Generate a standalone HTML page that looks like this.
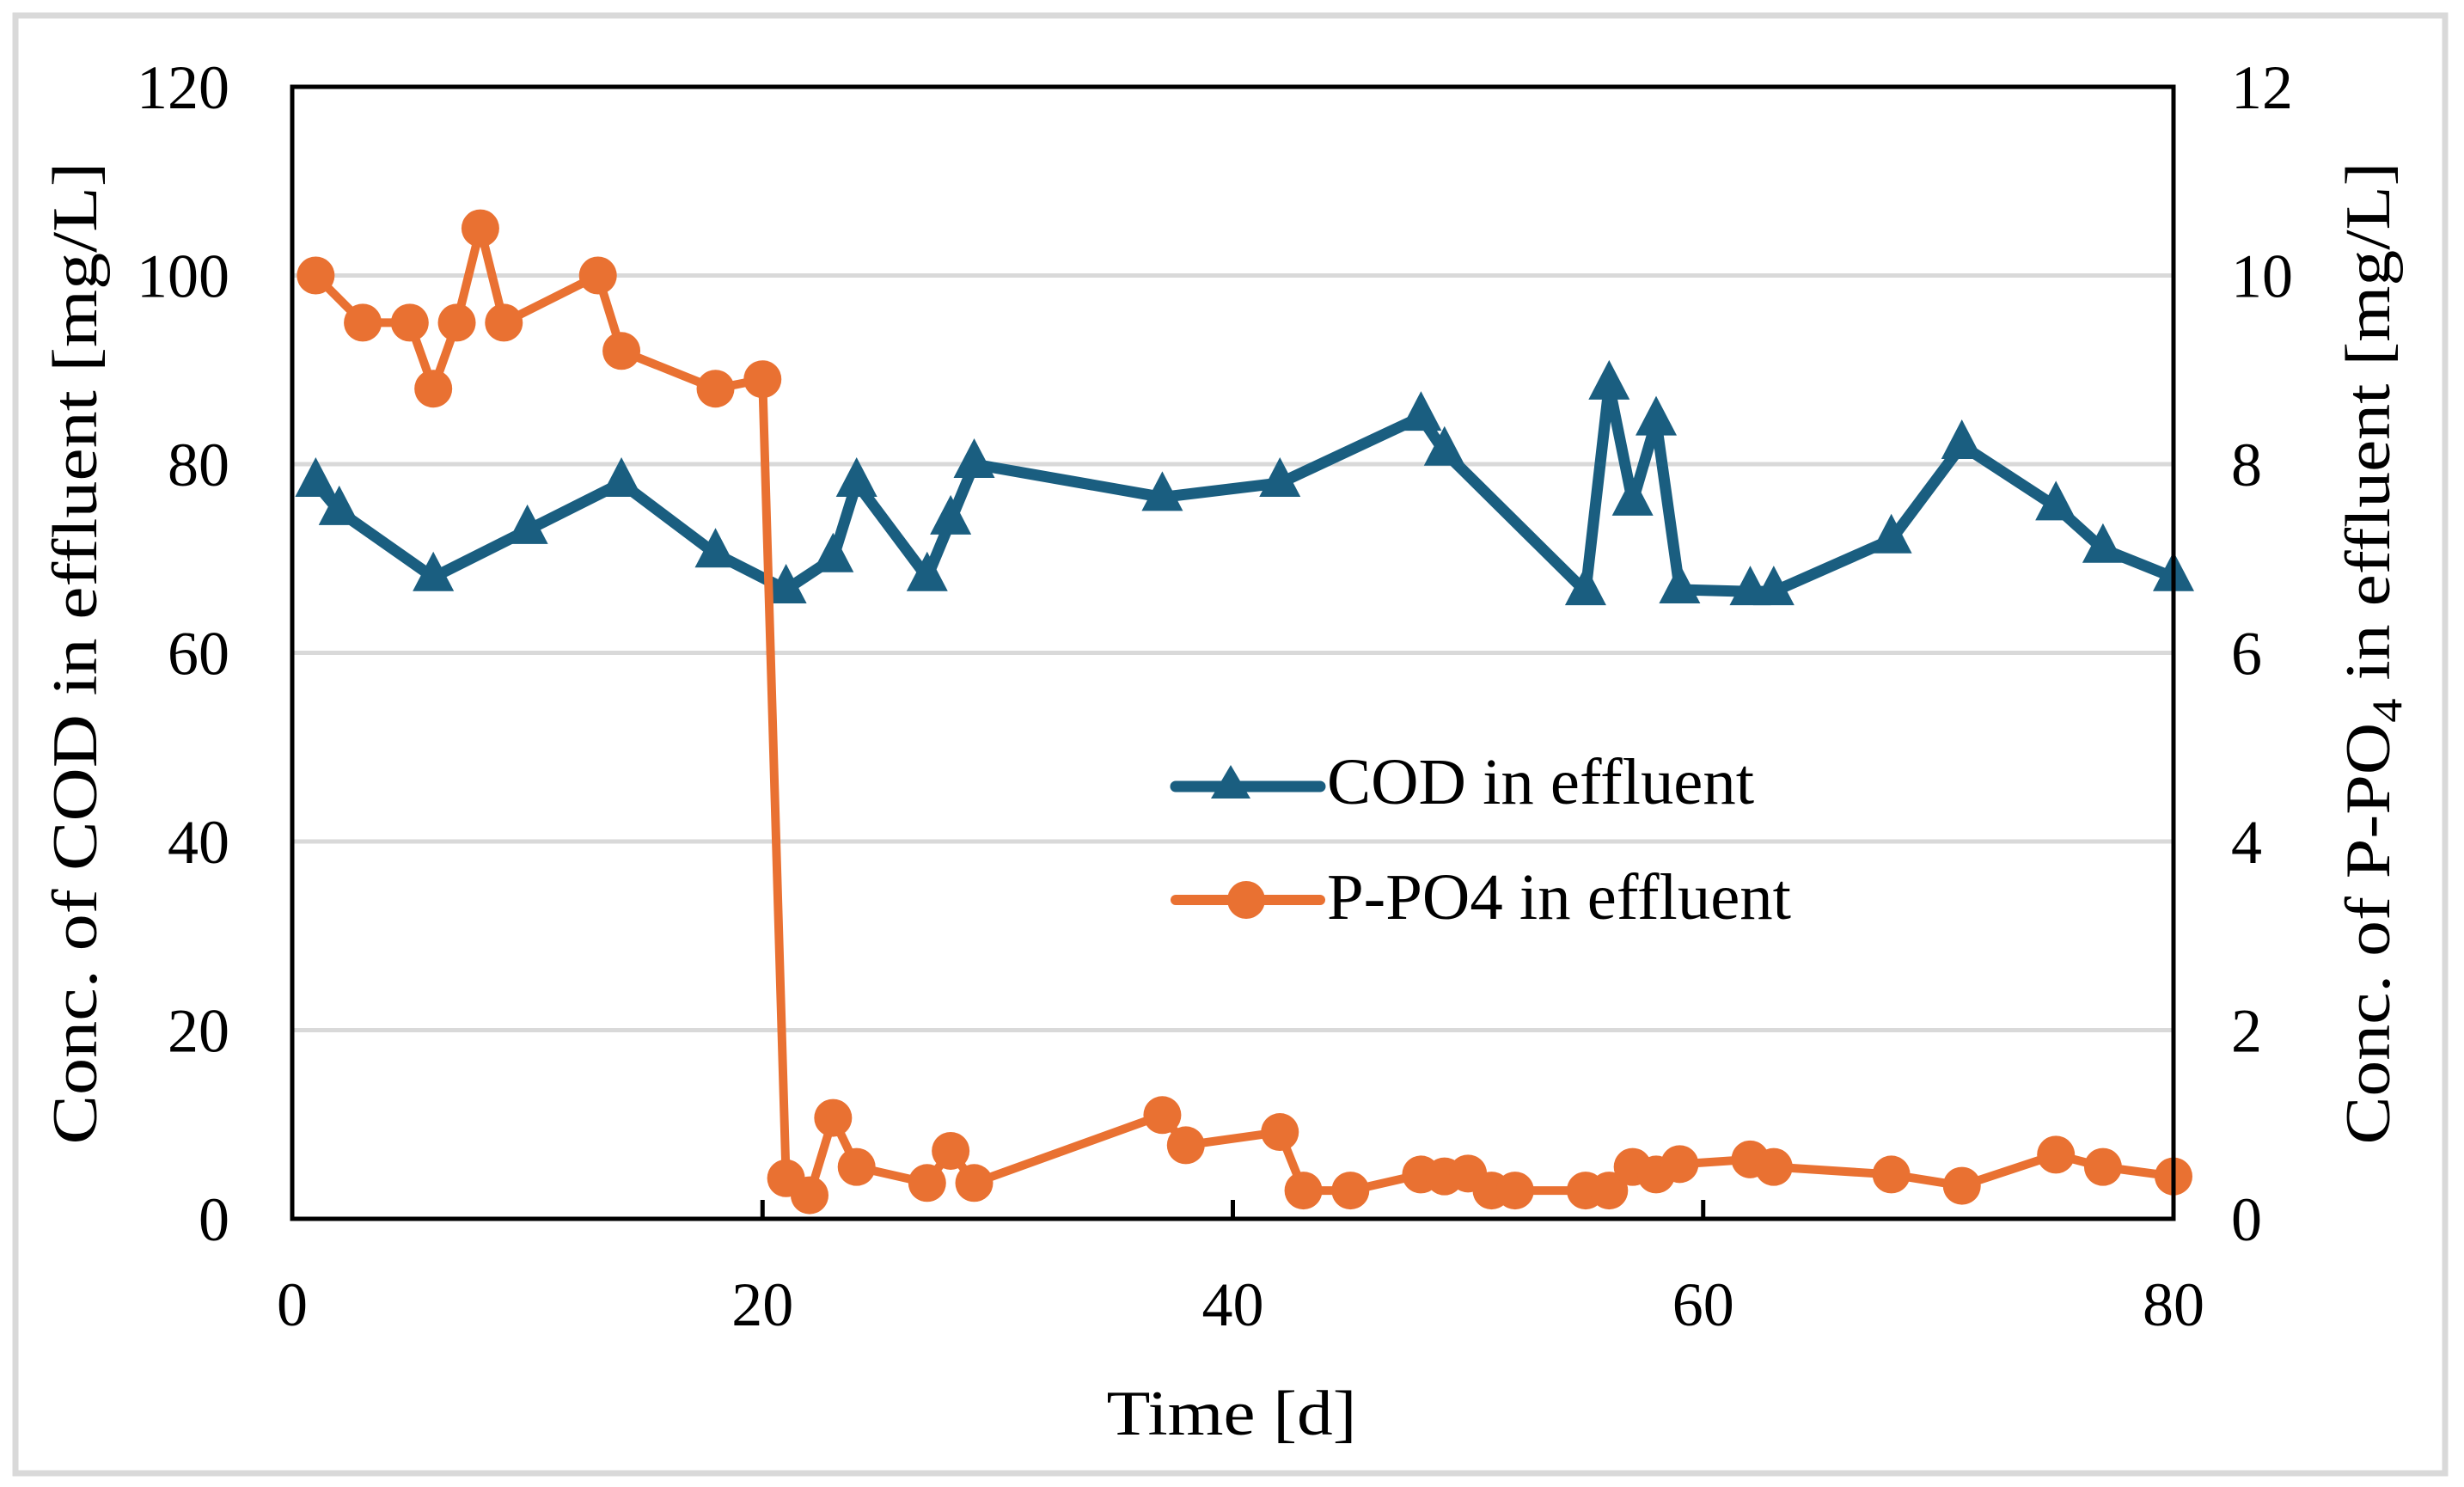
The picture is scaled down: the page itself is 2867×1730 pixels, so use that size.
<!DOCTYPE html>
<html><head><meta charset="utf-8"><style>
html,body{margin:0;padding:0;background:#fff;}
svg{display:block;font-family:"Liberation Serif",serif;}
</style></head><body>
<svg id="chart" width="2867" height="1730" viewBox="0 0 2867 1730">
<rect x="18" y="18" width="2827" height="1696" fill="#fff" stroke="#d9d9d9" stroke-width="7"/>
<g id="grid"></g>
<g id="series"></g>
<rect x="340" y="101" width="2189" height="1317" fill="none" stroke="#000" stroke-width="5"/>
<g id="ticks"></g>
<text x="0" y="0" transform="translate(112,760) rotate(-90)" text-anchor="middle" font-size="74" textLength="1143" lengthAdjust="spacingAndGlyphs">Conc. of COD in  effluent [mg/L]</text>
<text x="0" y="0" transform="translate(2780,760) rotate(-90)" text-anchor="middle" font-size="74" textLength="1143" lengthAdjust="spacingAndGlyphs">Conc. of P-PO<tspan font-size="50" dy="14">4</tspan><tspan dy="-14"> in effluent [mg/L]</tspan></text>
<text x="1433" y="1669" text-anchor="middle" font-size="74" textLength="291" lengthAdjust="spacingAndGlyphs">Time [d]</text>
<g>
<line x1="1368" y1="915" x2="1536" y2="915" stroke="#1a5e80" stroke-width="13" stroke-linecap="round"/>
<path d="M1432,890 L1455,929 L1409,929 Z" fill="#1a5e80"/>
<text x="1544" y="935" font-size="76" textLength="497" lengthAdjust="spacingAndGlyphs">COD in effluent</text>
<line x1="1368" y1="1047" x2="1536" y2="1047" stroke="#e97132" stroke-width="12" stroke-linecap="round"/>
<circle cx="1450" cy="1047" r="22" fill="#e97132"/>
<text x="1544" y="1069" font-size="76" textLength="540" lengthAdjust="spacingAndGlyphs">P-PO4 in effluent</text>
</g>
</svg>
<script>
const codDays=[1,2,6,10,14,18,21,23,24,27,28,29,37,42,48,49,55,56,57,58,59,62,63,68,71,75,77,80];
const codValues=[78,75,68,73,78,70.5,66.7,70,78,68,74,80,76.5,78,85,81.3,66.5,88.3,76,84.5,66.7,66.5,66.5,72,82,75.5,71,68];
const poDays=[1,3,5,6,7,8,9,13,14,18,20,21,22,23,24,27,28,29,37,38,42,43,45,48,49,50,51,52,55,56,57,58,59,62,63,68,71,75,77,80];
const poValues=[10,9.5,9.5,8.8,9.5,10.5,9.5,10,9.2,8.8,8.9,0.43,0.25,1.07,0.55,0.38,0.72,0.38,1.1,0.78,0.92,0.3,0.3,0.47,0.45,0.48,0.3,0.3,0.3,0.3,0.55,0.47,0.58,0.63,0.55,0.47,0.35,0.68,0.55,0.45];
const xTicks=[0,20,40,60,80];
const leftTicks=[0,20,40,60,80,100,120];
const rightTicks=[0,2,4,6,8,10,12];
const NS="http://www.w3.org/2000/svg";
const X0=340,X1=2529,Y0=1418,Y1=101;
function xs(v){return X0+(v-0)/80*(X1-X0);}
function yl(v){return Y0-v/120*(Y0-Y1);}
function yr(v){return Y0-v/12*(Y0-Y1);}
function mk(tag,attrs,parent){const e=document.createElementNS(NS,tag);for(const k in attrs)e.setAttribute(k,attrs[k]);parent.appendChild(e);return e;}
const grid=document.getElementById('grid'),ticks=document.getElementById('ticks'),series=document.getElementById('series');
leftTicks.forEach(v=>{
 if(v>0&&v<120){const g=mk('line',{x1:X0,x2:X1,y1:yl(v),y2:yl(v),stroke:'#d9d9d9','stroke-width':5},grid);
 
 }
 const t=mk('text',{x:267,y:yl(v)+25,'text-anchor':'end','font-size':72},ticks);t.textContent=v;
 
 
});
rightTicks.forEach(v=>{
 const t=mk('text',{x:2596,y:yr(v)+25,'text-anchor':'start','font-size':72},ticks);t.textContent=v;
 
 
});
xTicks.forEach(v=>{
 if(v>0&&v<80){const l=mk('line',{x1:xs(v),x2:xs(v),y1:Y0,y2:Y0-22,stroke:'#000','stroke-width':5},ticks);
 
 }
 const t=mk('text',{x:xs(v),y:1542,'text-anchor':'middle','font-size':72},ticks);t.textContent=v;
 
 
});
const codPts=codDays.map((d,i)=>xs(d)+','+yl(codValues[i])).join(' ');
const cl=mk('polyline',{points:codPts,fill:'none',stroke:'#1a5e80','stroke-width':13,'stroke-linejoin':'round'},series);


codDays.forEach((d,i)=>{const x=xs(d),y=yl(codValues[i]);
 const p=mk('path',{d:`M${x},${y-30} L${x+24},${y+16} L${x-24},${y+16} Z`,fill:'#1a5e80'},series);
 
 
});
const poPts=poDays.map((d,i)=>xs(d)+','+yr(poValues[i])).join(' ');
const pl=mk('polyline',{points:poPts,fill:'none',stroke:'#e97132','stroke-width':10,'stroke-linejoin':'round'},series);


poDays.forEach((d,i)=>{
 const c=mk('circle',{cx:xs(d),cy:yr(poValues[i]),r:22,fill:'#e97132'},series);
 
 
});
</script>
</body></html>
